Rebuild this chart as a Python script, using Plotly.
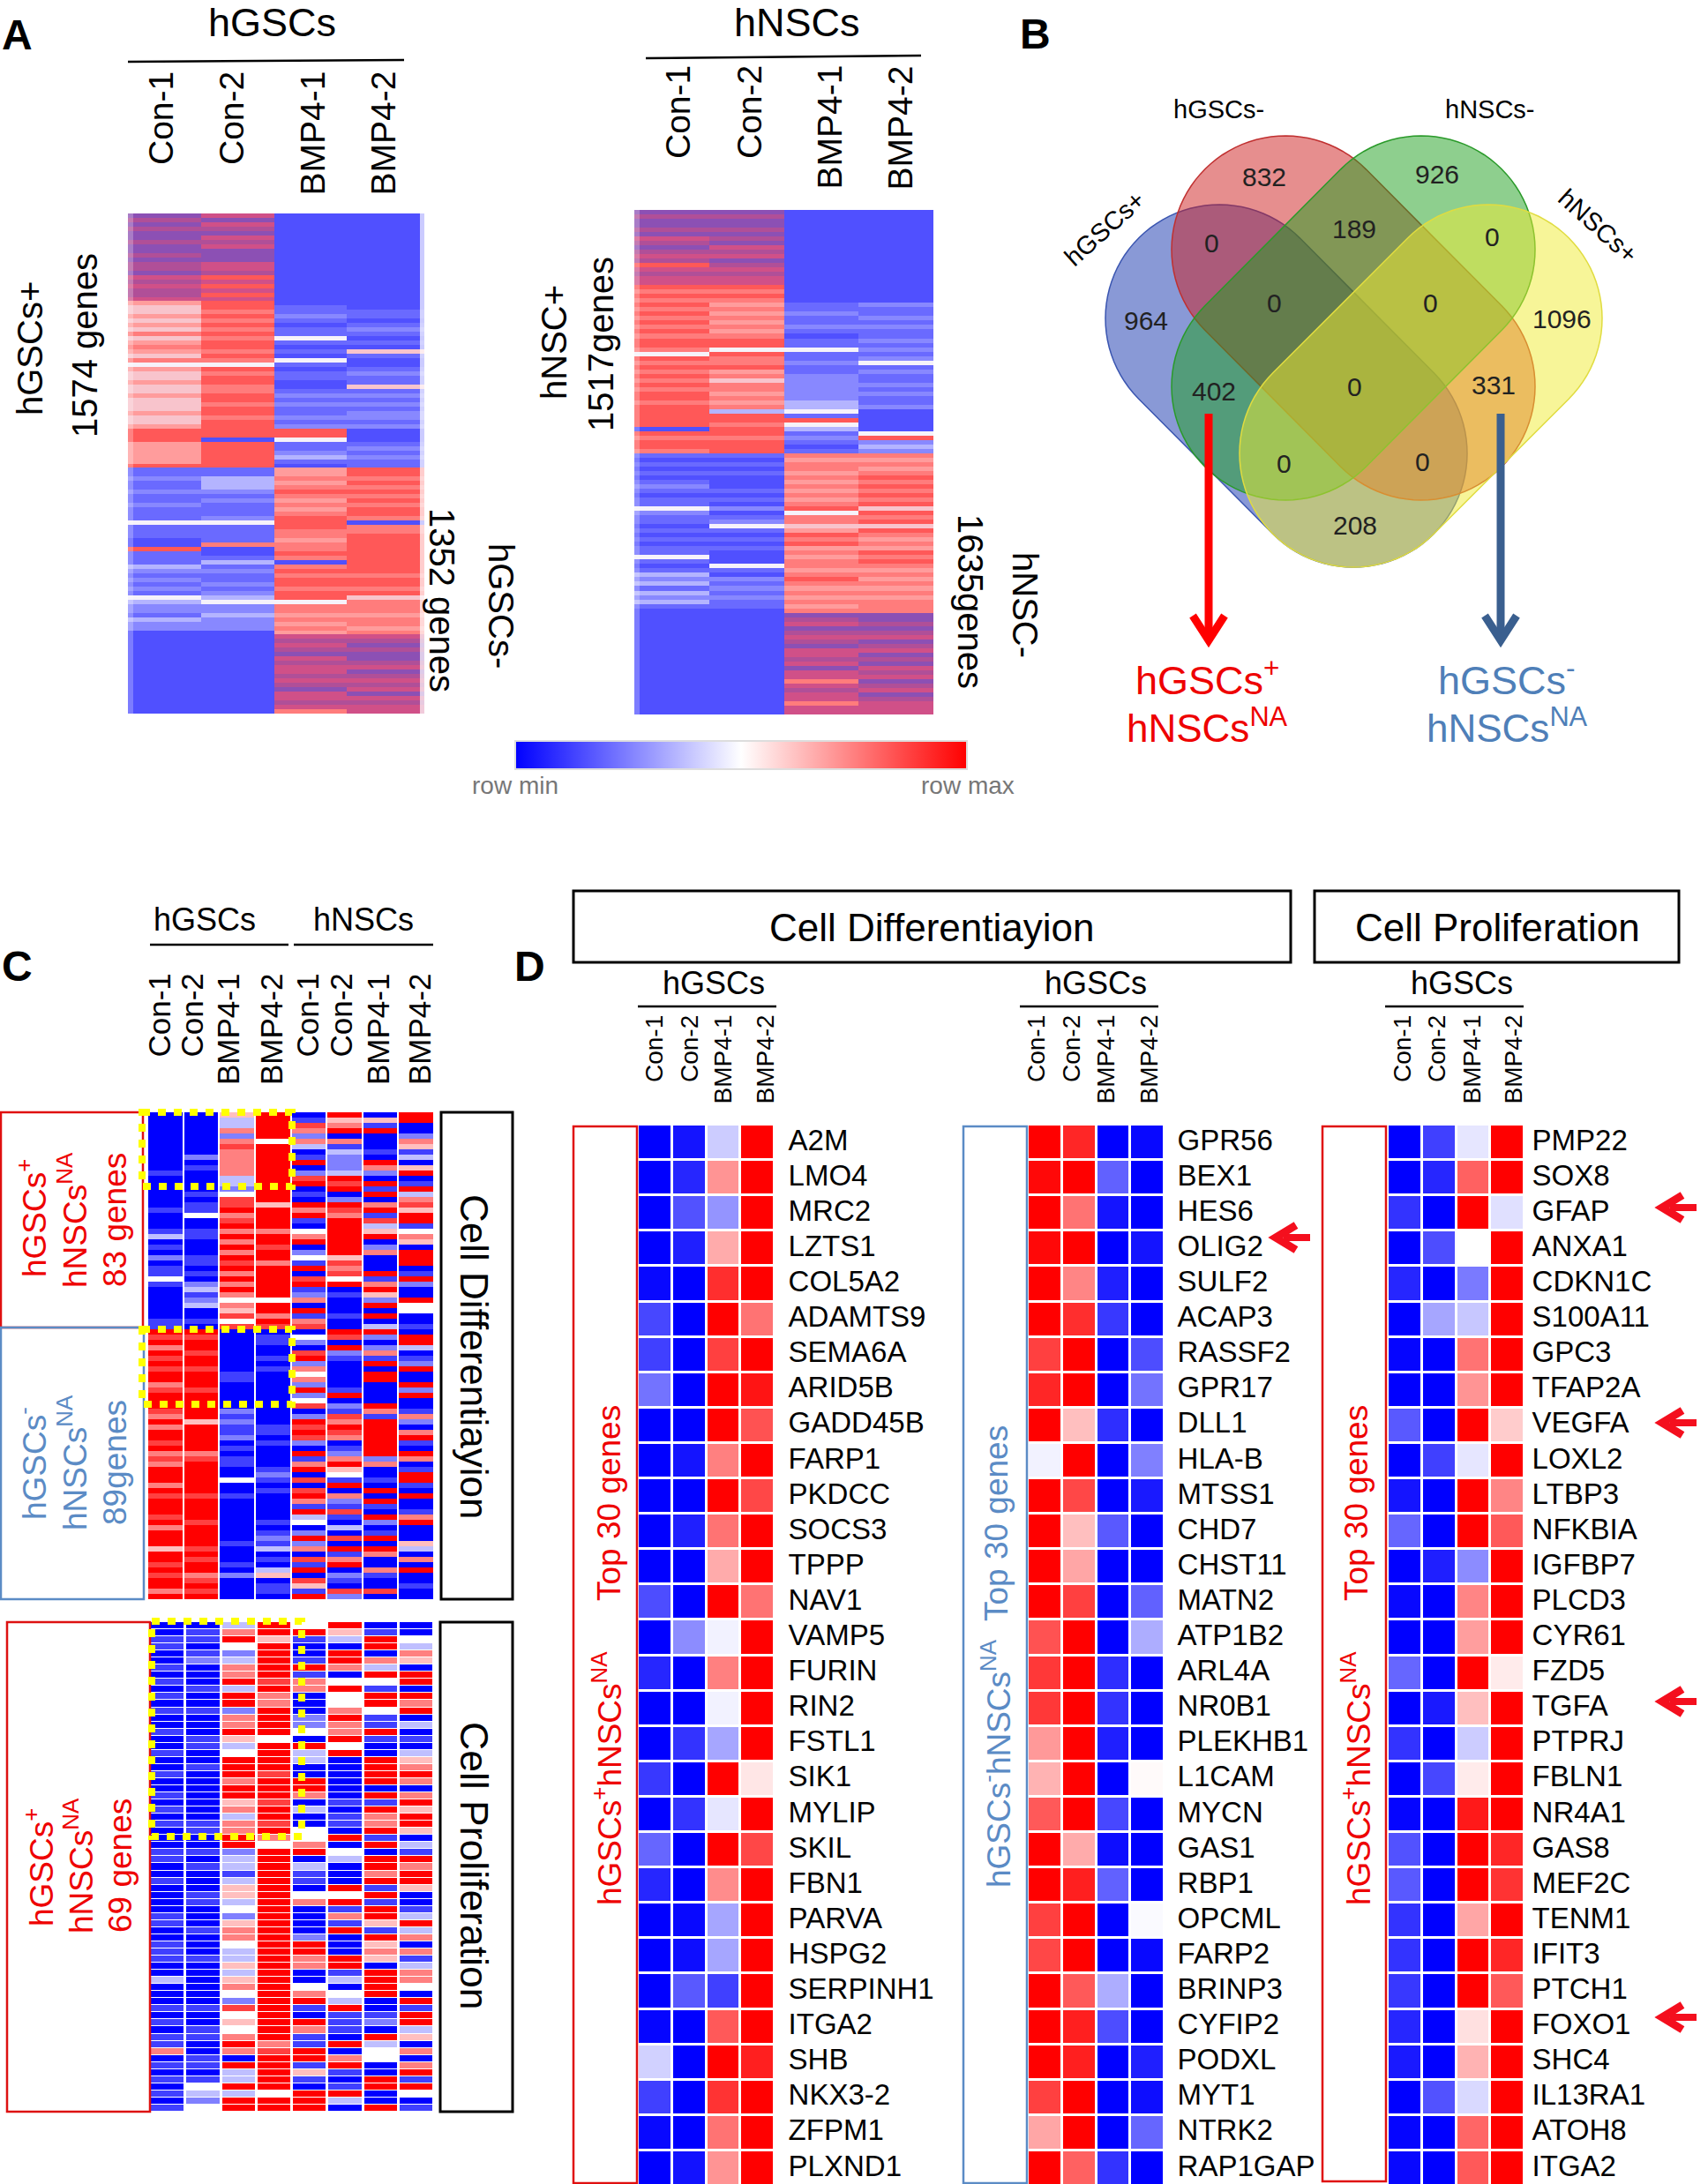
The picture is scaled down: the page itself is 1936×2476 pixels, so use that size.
import math
import plotly.graph_objects as go

W, H = 1936, 2476
FONT = "Liberation Sans"

# ---------- DATA ----------
SAMPLES = ["Con-1", "Con-2", "BMP4-1", "BMP4-2"]

# Panel A: each column is a string of colour levels, read row by row (10 rows per chunk)
A_CODES = "0123456789pq"
A_COLOURS = ["#5050ff", "#6a6aff", "#8888ff", "#b4b4ff", "#f6f2fa", "#f8c4cc",
             "#ff9c9c", "#ff7c7c", "#ff5858", "#d05088", "#b04f98", "#8c50b4"]
A_GSC_CON1 = ["qpqpqqpqqp", "qppq9p9pp9", "6556565756", "7657465565", "5655565568", "8866666811",
              "2112112111", "4111008111", "3212121432", "2132200000", "0000000000", "0000"]
A_GSC_CON2 = ["9q9pq9p9qq", "q99p898989", "8878787878", "8787487887", "7887887888", "8088888811",
              "3332121112", "4111170013", "1211212342", "2322200000", "0000000000", "0000"]
A_GSC_BMP1 = ["0000000000", "0000000000", "0112101141", "0104101100", "1212112128", "8411231066",
              "7678767678", "8877677870", "7878878847", "7676769p9p", "q9p99p9pq9", "9p97"]
A_GSC_BMP2 = ["0000000000", "0000000000", "0011012101", "0510012115", "1212122120", "0012121188",
              "7878787887", "0778888888", "8878878577", "7677679pqp", "qqp9qp9p9q", "9p99"]
A_NSC_CON1 = ["qpqqpq9pqp", "9p89p99878", "7878787878", "8748787878", "7887888880", "8788710101",
              "0121011421", "1010101141", "0132313231", "0000000000", "0000000000", "0000"]
A_NSC_CON2 = ["qpqqpqpq9p", "9qp9p99878", "7676767678", "8487786757", "7676738878", "8788810101",
              "0001010201", "2410101000", "4102121211", "0000000000", "0000000000", "0000"]
A_NSC_BMP1 = ["0000000000", "0000000000", "0112112101", "1411211222", "2223341843", "1210176776",
              "7676767847", "7568786767", "7678767676", "7qp9qp9pq9", "9p9q9979p9", "9799"]
A_NSC_BMP2 = ["0000000000", "0000000000", "0211212112", "1212412112", "1211200000", "4823276767",
              "8787878587", "8587676878", "7676767677", "7qqpqp9qp9", "qpq9p9qp9q", "p999"]

# Panel B: Venn counts
VENN_COUNTS = ["832", "926", "0", "189", "0", "964", "0", "0", "1096", "402", "0", "331", "0", "0", "208"]

# Panel C: digit 0..8 stands for -1 .. +1
C_LEVELS = [-1, -0.75, -0.5, -0.25, 0, 0.25, 0.5, 0.75, 1]
C1_COLS = [
    ["0000000000", "0100000010", "0013010201", "1410000001", "1878687878", "8678887686", "8878676888", "6878887868", "8858878788", "68"],
    ["0000000020", "1000010114", "0011000110", "1023123001", "0878878878", "8878888858", "8888678888", "8878888788", "8878788678", "78"],
    ["5336267666", "6633247786", "7868686878", "6868646574", "7000000001", "1000002121", "1201011004", "0010000000", "0100010200", "00"],
    ["8888848888", "8888888588", "8868878868", "8888848868", "7011001010", "0000000001", "1010000121", "0100000101", "2130103501", "10"],
    ["0176263018", "0278010868", "1046802418", "0781260816", "7042078264", "6282470287", "8720816807", "0786183402", "8260718075", "18"],
    ["8568061322", "2387802876", "8888888576", "7480100010", "0870821000", "0018021768", "7601268541", "8062171030", "7081680210", "72"],
    ["0518000108", "6208180681", "7358026000", "8168528080", "3820261808", "8000086188", "8888826001", "0808108201", "8086006100", "70"],
    ["8800265130", "5801836758", "8146508880", "1820084400", "1088301280", "0828001620", "6810860188", "1080016800", "0530608001", "00"],
]
C2_COLS = [
    ["0011001010", "1010010010", "0100101010", "0011001000", "0110011100", "3000101011", "601010101"],
    ["0110120001", "0010001100", "1000000011", "0010100011", "0001000100", "0000100110", "011014324"],
    ["3684236683", "8826685348", "8868856366", "8823313553", "4256643353", "5642745468", "608338388"],
    ["8858888878", "6688884888", "8788878878", "6488888888", "8888888888", "8888888886", "788888488"],
    ["4810018166", "0002240833", "0088603004", "4680311046", "0000288660", "0468108611", "881510888"],
    ["8530886048", "4468668480", "0000010110", "8043000848", "1618000881", "3043811108", "068101830"],
    ["0188063841", "8841181008", "8880818668", "1808868181", "8851856508", "8880012083", "440088008"],
    ["0043650880", "8680301035", "6860685885", "0318688500", "1383606136", "6408188350", "606818401"],
]

# Panel D
D1_GENES = ["A2M", "LMO4", "MRC2", "LZTS1", "COL5A2", "ADAMTS9", "SEMA6A", "ARID5B", "GADD45B", "FARP1",
            "PKDCC", "SOCS3", "TPPP", "NAV1", "VAMP5", "FURIN", "RIN2", "FSTL1", "SIK1", "MYLIP",
            "SKIL", "FBN1", "PARVA", "HSPG2", "SERPINH1", "ITGA2", "SHB", "NKX3-2", "ZFPM1", "PLXND1"]
D1_VALUES = [[-1, -.92, -.2, 1], [-1, -.85, .42, 1], [-1, -.68, -.42, 1], [-1, -.88, .33, 1], [-.97, -1, .82, 1],
             [-.72, -1, 1, .55], [-.75, -1, .75, 1], [-.55, -1, 1, .92], [-1, -1, 1, .68], [-1, -.92, .5, 1],
             [-1, -1, 1, .72], [-1, -.88, .55, 1], [-1, -1, .33, 1], [-.7, -1, 1, .55], [-1, -.45, -.05, 1],
             [-.85, -1, .5, 1], [-1, -1, -.05, 1], [-1, -.8, -.35, 1], [-.78, -1, 1, .1], [-1, -.8, -.1, 1],
             [-.6, -1, 1, .72], [-.85, -1, .45, 1], [-1, -.97, -.35, 1], [-1, -.95, -.35, 1], [-1, -.65, -.75, 1],
             [-.98, -1, .65, 1], [-.18, -1, 1, .88], [-.75, -1, .8, 1], [-.97, -1, .55, 1], [-1, -.93, .42, 1]]
D2_GENES = ["GPR56", "BEX1", "HES6", "OLIG2", "SULF2", "ACAP3", "RASSF2", "GPR17", "DLL1", "HLA-B",
            "MTSS1", "CHD7", "CHST11", "MATN2", "ATP1B2", "ARL4A", "NR0B1", "PLEKHB1", "L1CAM", "MYCN",
            "GAS1", "RBP1", "OPCML", "FARP2", "BRINP3", "CYFIP2", "PODXL", "MYT1", "NTRK2", "RAP1GAP"]
D2_VALUES = [[1, .85, -1, -.97], [.97, 1, -.62, -1], [1, .55, -.92, -1], [.97, 1, -1, -.92], [1, .48, -.88, -1],
             [1, .82, -.78, -1], [.75, 1, -1, -.7], [.85, 1, -1, -.55], [1, .25, -.82, -1], [-.05, 1, -1, -.5],
             [1, .72, -1, -.9], [1, .25, -.65, -1], [1, .35, -1, -1], [1, .75, -1, -.62], [.68, 1, -1, -.32],
             [.78, 1, -.82, -1], [.78, 1, -.8, -1], [.4, 1, -.88, -1], [.3, 1, -1, .02], [.65, 1, -.72, -1],
             [1, .33, -.95, -1], [1, .88, -.62, -1], [.75, 1, -1, -.02], [.72, 1, -1, -.97], [1, .65, -.32, -1],
             [1, .88, -.7, -1], [1, .88, -1, -.88], [.75, 1, -1, -.95], [.35, 1, -1, -.6], [1, .62, -.8, -1]]
D3_GENES = ["PMP22", "SOX8", "GFAP", "ANXA1", "CDKN1C", "S100A11", "GPC3", "TFAP2A", "VEGFA", "LOXL2",
            "LTBP3", "NFKBIA", "IGFBP7", "PLCD3", "CYR61", "FZD5", "TGFA", "PTPRJ", "FBLN1", "NR4A1",
            "GAS8", "MEF2C", "TENM1", "IFIT3", "PTCH1", "FOXO1", "SHC4", "IL13RA1", "ATOH8", "ITGA2"]
D3_VALUES = [[-1, -.75, -.1, 1], [-1, -.85, .62, 1], [-.8, -1, 1, -.12], [-1, -.7, 0, 1], [-.85, -1, -.52, 1],
             [-1, -.35, -.22, 1], [-.98, -1, .55, 1], [-1, -1, .42, 1], [-.65, -1, 1, .2], [-1, -.75, -.1, 1],
             [-.92, -1, 1, .48], [-.6, -1, 1, .65], [-1, -.88, -.45, 1], [-.97, -1, .48, 1], [-1, -1, .38, 1],
             [-.6, -1, 1, .08], [-1, -.9, .25, 1], [-.8, -1, -.2, 1], [-1, -.72, .08, 1], [-.98, -1, .9, 1],
             [-.68, -1, 1, .85], [-.65, -1, 1, .8], [-.8, -1, .35, 1], [-.8, -1, 1, .85], [-.78, -1, 1, .65],
             [-.85, -1, .12, 1], [-.9, -1, .3, 1], [-1, -.68, -.15, 1], [-.98, -1, .6, 1], [-.97, -1, .65, 1]]

# ---------- HELPERS ----------
def X(p): return p / W
def Y(p): return 1 - p / H

RB = [[0, "#0000ff"], [0.5, "#ffffff"], [1, "#ff0000"]]
A_SCALE = [[i / (len(A_COLOURS) - 1), c] for i, c in enumerate(A_COLOURS)]

fig = go.Figure()
layout = {}
axis_n = [0]
shapes = []
annots = []

def ann(text, px, py, size, color="#000", angle=0, bold=False, xanchor="center", yanchor="middle"):
    annots.append(dict(text=text, x=X(px), y=Y(py), xref="paper", yref="paper", showarrow=False,
                       xanchor=xanchor, yanchor=yanchor, textangle=angle, borderpad=0,
                       font=dict(family=FONT, size=size, color=color, weight="bold" if bold else "normal")))

def rect(x0, y0, x1, y1, line="#000", width=2, fill=None, dash=None, layer="above"):
    s = dict(type="rect", xref="paper", yref="paper", x0=X(x0), x1=X(x1), y0=Y(y0), y1=Y(y1),
             line=dict(color=line, width=width, dash=dash) if width else dict(width=0), layer=layer)
    if fill:
        s["fillcolor"] = fill
    shapes.append(s)

def hline(x0, y0, x1, y1, color="#000", width=2):
    shapes.append(dict(type="line", xref="paper", yref="paper", x0=X(x0), x1=X(x1), y0=Y(y0), y1=Y(y1),
                       line=dict(color=color, width=width)))

def add_heat(z, box, xrange, yrange, ticks=None, ticklen=8, x=None, scale=RB, zmin=-1, zmax=1, xgap=0, ygap=0, colorbar=None):
    axis_n[0] += 1
    n = axis_n[0]
    sfx = "" if n == 1 else str(n)
    x0, y0, x1, y1 = box
    kw = dict(z=z, colorscale=scale, zmin=zmin, zmax=zmax, xgap=xgap, ygap=ygap,
              xaxis="x" + sfx, yaxis="y" + sfx, hoverinfo="skip", showscale=colorbar is not None)
    if x is not None:
        kw["x"] = x
    if colorbar is not None:
        kw["colorbar"] = colorbar
    fig.add_trace(go.Heatmap(**kw))
    layout["xaxis" + sfx] = dict(domain=[X(x0), X(x1)], range=xrange, visible=False, anchor="y" + sfx, fixedrange=True)
    ya = dict(domain=[Y(y1), Y(y0)], range=yrange, anchor="x" + sfx, fixedrange=True, showgrid=False, zeroline=False)
    if ticks:
        ya.update(side="right", tickmode="array", tickvals=list(range(len(ticks))), ticktext=ticks,
                  ticks="outside", ticklen=ticklen, tickcolor="rgba(0,0,0,0)", showline=False,
                  ticklabeloverflow="allow", ticklabelshift=3,
                  tickfont=dict(family=FONT, size=33, color="#000"))
    else:
        ya["visible"] = False
    layout["yaxis" + sfx] = ya

def a_rows(cols):
    strs = ["".join(c) for c in cols]
    return [[A_CODES.index(ch) for ch in row] for row in zip(*strs)]

def c_rows(cols):
    strs = ["".join(c) for c in cols]
    return [[C_LEVELS[int(ch)] for ch in row] for row in zip(*strs)]

# ---------- PANEL A ----------
z = [r + [r[3]] for r in a_rows([A_GSC_CON1, A_GSC_CON2, A_GSC_BMP1, A_GSC_BMP2])]
add_heat(z, (145, 242, 481, 809), [0, 4.06], [113.5, -0.5], x=[0, 1, 2, 3, 4, 4.06],
         scale=A_SCALE, zmin=0, zmax=11)
rect(145, 242, 151, 809, width=0, fill="rgba(255,255,255,0.25)")
rect(476, 242, 481, 809, width=0, fill="rgba(255,255,255,0.7)")
z = a_rows([A_NSC_CON1, A_NSC_CON2, A_NSC_BMP1, A_NSC_BMP2])
add_heat(z, (719, 238, 1058, 810), [-0.5, 3.5], [113.5, -0.5], scale=A_SCALE, zmin=0, zmax=11)
rect(719, 238, 725, 810, width=0, fill="rgba(255,255,255,0.25)")

ann("hGSCs", 308, 26, 45)
ann("hNSCs", 903, 26, 45)
hline(145, 70, 458, 68, width=2.5)
hline(732, 66, 1044, 63, width=2.5)
for s, px in zip(SAMPLES, [183, 263, 354, 434]):
    ann(s, px, 80, 39, angle=-90, yanchor="top")
for s, px in zip(SAMPLES, [769, 850, 940, 1020]):
    ann(s, px, 73, 39, angle=-90, yanchor="top")
ann("hGSCs+", 34, 395, 40, angle=-90)
ann("1574 genes", 96, 392, 40, angle=-90)
ann("1352 genes", 501, 680, 40, angle=90)
ann("hGSCs-", 568, 687, 40, angle=90)
ann("hNSC+", 628, 388, 40, angle=-90)
ann("1517genes", 681, 390, 40, angle=-90)
ann("1635genes", 1100, 682, 40, angle=90)
ann("hNSC-", 1162, 686, 40, angle=90)
ann("row min", 584, 890, 28, color="#777")
ann("row max", 1097, 890, 28, color="#777")
ann("A", 19, 40, 48, bold=True)
ann("B", 1173, 39, 48, bold=True)
ann("C", 19, 1095, 48, bold=True)
ann("D", 600, 1095, 48, bold=True)

# ---------- PANEL B ----------
def stadium(c1, c2, r, fill, line):
    th = math.atan2(c2[1] - c1[1], c2[0] - c1[0])
    pts = []
    for i in range(49):
        a = th + math.pi / 2 + math.pi * i / 48
        pts.append((c1[0] + r * math.cos(a), c1[1] + r * math.sin(a)))
    for i in range(49):
        a = th - math.pi / 2 + math.pi * i / 48
        pts.append((c2[0] + r * math.cos(a), c2[1] + r * math.sin(a)))
    path = "M" + " L".join(f"{X(p[0]):.5f},{Y(p[1]):.5f}" for p in pts) + " Z"
    shapes.append(dict(type="path", xref="paper", yref="paper", path=path, fillcolor=fill,
                       line=dict(color=line, width=1.5)))

stadium((1382, 361), (1534, 514), 129, "rgba(40,70,180,0.55)", "#3a55b0")
stadium((1457, 283), (1611, 438), 129, "rgba(205,30,30,0.5)", "#c03030")
stadium((1611, 283), (1457, 438), 129, "rgba(30,160,30,0.5)", "#2a9a2a")
stadium((1687, 361), (1534, 514), 129, "rgba(240,235,50,0.5)", "#e0dc40")

venn_pos = [(1433, 202), (1629, 198), (1373, 276), (1535, 260), (1691, 270), (1299, 364), (1444, 344),
            (1621, 345), (1770, 362), (1376, 445), (1535, 439), (1693, 438), (1455, 526), (1612, 524), (1536, 597)]
for t, (px, py) in zip(VENN_COUNTS, venn_pos):
    ann(t, px, py - 1, 30, color="#222")
ann("hGSCs-", 1381, 124, 29)
ann("hNSCs-", 1689, 124, 29)
ann("hGSCs+", 1252, 259, 29, angle=-42)
ann("hNSCs+", 1811, 256, 29, angle=42)

def down_arrow(px, col):
    hline(px, 469, px, 722, color=col, width=9)
    path = f"M{X(px-18):.5f},{Y(698):.5f} L{X(px):.5f},{Y(726):.5f} L{X(px+18):.5f},{Y(698):.5f}"
    shapes.append(dict(type="path", xref="paper", yref="paper", path=path, line=dict(color=col, width=9)))

down_arrow(1370, "#ff0000")
down_arrow(1701, "#3a5f8f")
ann("hGSCs<sup>+</sup>", 1368, 768, 45, color="#ee0000")
ann("hNSCs<sup>NA</sup>", 1368, 822, 44, color="#ee0000")
ann("hGSCs<sup>-</sup>", 1708, 768, 45, color="#4f7fb8")
ann("hNSCs<sup>NA</sup>", 1708, 822, 44, color="#4f7fb8")

# ---------- PANEL C ----------
CBAR = dict(orientation="h", x=X(584), xanchor="left", y=Y(840), yanchor="top", lenmode="pixels", len=512,
            thickness=32, thicknessmode="pixels", xpad=0, ypad=0, outlinecolor="#dddddd", outlinewidth=2,
            ticks="", showticklabels=False)
add_heat(c_rows(C1_COLS), (167, 1261, 492, 1813), [-0.5, 7.5], [91.5, -0.5], xgap=2, colorbar=CBAR)
add_heat(c_rows(C2_COLS), (170, 1839, 492, 2394), [-0.5, 7.5], [68.5, -0.5], xgap=3, ygap=1)

ann("hGSCs", 232, 1042, 36)
ann("hNSCs", 412, 1042, 36)
hline(170, 1071, 327, 1071, width=2.5)
hline(333, 1071, 491, 1071, width=2.5)
for s, px in zip(SAMPLES + SAMPLES, [180, 217, 258, 307, 348, 386, 428, 475]):
    ann(s, px, 1103, 35, angle=-90, yanchor="top")

rect(1, 1261, 162, 1505, line="#e01010", width=2.5)
rect(1, 1505, 163, 1813, line="#5b8bc5", width=2.5)
rect(8, 1839, 170, 2394, line="#dd1111", width=2.5)
rect(500, 1261, 581, 1813, line="#000", width=3)
rect(499, 1839, 581, 2394, line="#000", width=3)
ann("Cell Differentiayion", 538, 1538, 44, angle=90)
ann("Cell Proliferation", 538, 2115, 44.5, angle=90)
for x0, y0, x1, y1 in [(161, 1261, 331, 1345), (161, 1507, 331, 1592), (172, 1838, 342, 2082)]:
    rect(x0, y0, x1, y1, line="#ffff00", width=8, dash="9px,9px")

RED = "#ee0000"
BLU = "#5b8bc5"
ann("hGSCs<sup>+</sup>", 37, 1381, 37, color=RED, angle=-90)
ann("hNSCs<sup>NA</sup>", 82, 1383, 37, color=RED, angle=-90)
ann("83 genes", 130, 1383, 37, color=RED, angle=-90)
ann("hGSCs<sup>-</sup>", 37, 1659, 37, color=BLU, angle=-90)
ann("hNSCs<sup>NA</sup>", 82, 1658, 37, color=BLU, angle=-90)
ann("89genes", 130, 1658, 37, color=BLU, angle=-90)
ann("hGSCs<sup>+</sup>", 44, 2117, 37, color=RED, angle=-90)
ann("hNSCs<sup>NA</sup>", 89, 2115, 37, color=RED, angle=-90)
ann("69 genes", 136, 2115, 37, color=RED, angle=-90)

# ---------- PANEL D ----------
for vals, genes, x0, tl in [(D1_VALUES, D1_GENES, 723, 8), (D2_VALUES, D2_GENES, 1165, 7), (D3_VALUES, D3_GENES, 1573, 1)]:
    add_heat(vals, (x0, 1275, x0 + 155, 2476), [-0.5, 3.5], [29.45, -0.5], ticks=genes, ticklen=tl, xgap=3, ygap=3)

rect(650, 1010, 1463, 1091, line="#000", width=3)
rect(1490, 1010, 1903, 1091, line="#000", width=3)
ann("Cell Differentiayion", 1056, 1052, 44)
ann("Cell Proliferation", 1697, 1052, 44)

for cx, lx0, xs in [(809, 723, [742, 782, 819, 867]), (1242, 1156, [1175, 1215, 1253, 1302]), (1657, 1570, [1590, 1629, 1668, 1715])]:
    ann("hGSCs", cx, 1115, 36)
    hline(lx0, 1141, lx0 + 157, 1141, width=2.5)
    for s, px in zip(SAMPLES, xs):
        ann(s, px, 1150, 28, angle=-90, yanchor="top")

rect(650, 1277, 722, 2475, line="#e01010", width=2.5)
rect(1092, 1277, 1164, 2475, line="#5b8bc5", width=2.5)
rect(1499, 1277, 1571, 2473, line="#e01010", width=2.5)
ann("Top 30 genes", 690, 1704, 37, color=RED, angle=-90)
ann("hGSCs<sup>+</sup>hNSCs<sup>NA</sup>", 688, 2016, 37, color=RED, angle=-90)
ann("Top 30 genes", 1129, 1727, 37, color=BLU, angle=-90)
ann("hGSCs<sup>-</sup>hNSCs<sup>NA</sup>", 1129, 1999, 37, color=BLU, angle=-90)
ann("Top 30 genes", 1537, 1704, 37, color=RED, angle=-90)
ann("hGSCs<sup>+</sup>hNSCs<sup>NA</sup>", 1537, 2016, 37, color=RED, angle=-90)

def left_arrow(tip, py):
    hline(tip + 14, py, tip + 44, py, color="#f40f1e", width=8)
    path = f"M{X(tip+28):.5f},{Y(py-14):.5f} L{X(tip+5):.5f},{Y(py):.5f} L{X(tip+28):.5f},{Y(py+14):.5f}"
    shapes.append(dict(type="path", xref="paper", yref="paper", path=path,
                       line=dict(color="#f40f1e", width=9)))

for tip, py in [(1441, 1403), (1879, 1369), (1879, 1613), (1879, 1929), (1879, 2287)]:
    left_arrow(tip, py)

fig.update_layout(width=W, height=H, margin=dict(l=0, r=0, t=0, b=0), paper_bgcolor="#fff", plot_bgcolor="#fff",
                  showlegend=False, shapes=shapes, annotations=annots, **layout)
fig.write_html("out.html", config={"displayModeBar": False}, post_script="document.body.style.margin='0';")
